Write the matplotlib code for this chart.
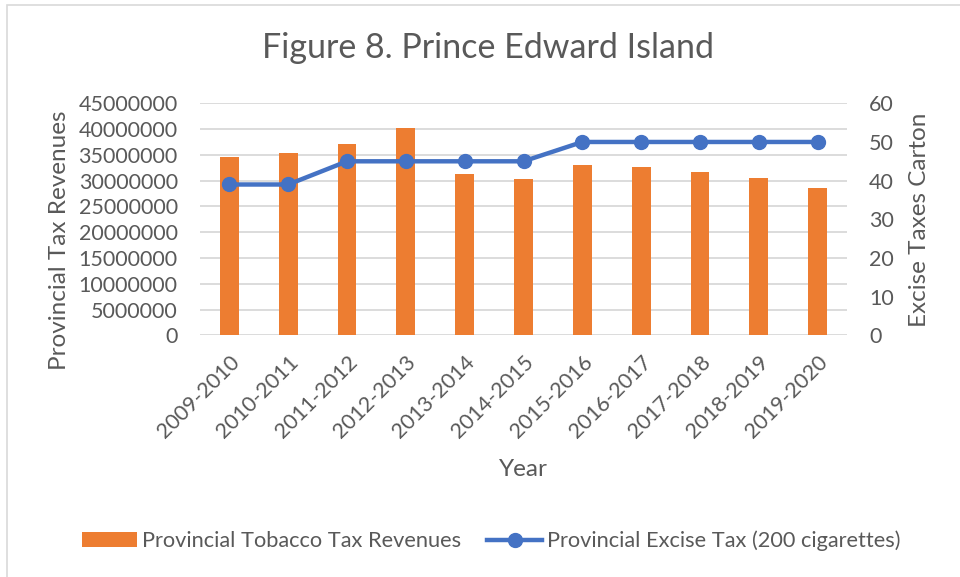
import matplotlib
matplotlib.use("Agg")
import matplotlib.pyplot as plt
from matplotlib.patches import Patch, Rectangle
from matplotlib.lines import Line2D

plt.rcParams['font.family'] = ['Lato', 'DejaVu Sans']

years = ["2009-2010", "2010-2011", "2011-2012", "2012-2013", "2013-2014",
         "2014-2015", "2015-2016", "2016-2017", "2017-2018", "2018-2019",
         "2019-2020"]
tobacco_revenue = [34600000, 35300000, 37100000, 40200000, 31300000,
                   30300000, 33000000, 32700000, 31700000, 30500000,
                   28500000]
excise_tax = [39, 39, 45, 45, 45, 45, 50, 50, 50, 50, 50]

left_ticks = [0, 5000000, 10000000, 15000000, 20000000, 25000000,
              30000000, 35000000, 40000000, 45000000]
right_ticks = [0, 10, 20, 30, 40, 50, 60]

TEXT = "#595959"
ORANGE = "#ED7D31"
BLUE = "#4472C4"
GRID = "#D9D9D9"
TICK_FS = 15.5
LABEL_FS = 17.5

fig = plt.figure(figsize=(9.6, 5.77), dpi=100)
fig.patches.append(Rectangle((7 / 960, -0.1), 1.2, (577 - 4.5) / 577 + 0.1,
                             transform=fig.transFigure, fill=False,
                             edgecolor=GRID, linewidth=1.2))

ax = fig.add_axes([200 / 960, (577 - 335.3) / 577, 647 / 960, 232 / 577])
x = list(range(len(years)))
ax.bar(x, tobacco_revenue, width=0.32, color=ORANGE, zorder=2)
ax.set_xlim(-0.5, len(years) - 0.5)
ax.set_ylim(left_ticks[0], left_ticks[-1])
ax.set_yticks(left_ticks)
ax.set_yticklabels([str(v) for v in left_ticks])
ax.set_axisbelow(True)
ax.yaxis.grid(True, color=GRID, linewidth=1.3)
for s in ax.spines.values():
    s.set_visible(False)
ax.tick_params(axis='both', length=0, colors=TEXT, labelsize=TICK_FS)
ax.tick_params(axis='y', pad=16)
ax.set_xticks(x)
ax.set_xticklabels(years, rotation=45, ha='right', va='top',
                   rotation_mode='anchor')
ax.tick_params(axis='x', pad=12)

ax2 = ax.twinx()
ax2.plot(x, excise_tax, color=BLUE, linewidth=3.2, marker='o',
         markersize=10, zorder=3)
ax2.set_ylim(right_ticks[0], right_ticks[-1])
ax2.set_yticks(right_ticks)
for s in ax2.spines.values():
    s.set_visible(False)
ax2.tick_params(axis='y', length=0, colors=TEXT, labelsize=TICK_FS, pad=16)

fig.text(487.5 / 960, 1 - 48 / 577, "Figure 8. Prince Edward Island",
         ha='center', va='center', fontsize=24.5, color=TEXT)
fig.text(60 / 960, 1 - 240 / 577, "Provincial Tax Revenues", rotation=90,
         ha='center', va='center', fontsize=LABEL_FS, color=TEXT)
fig.text(919 / 960, 1 - 220 / 577, "Excise Taxes Carton", rotation=90,
         ha='center', va='center', fontsize=LABEL_FS, color=TEXT)
fig.text(523 / 960, 1 - 470 / 577, "Year", ha='center', va='center',
         fontsize=LABEL_FS, color=TEXT)

handles = [Patch(facecolor=ORANGE, edgecolor='none'),
           Line2D([0], [0], color=BLUE, linewidth=3.2, marker='o',
                  markersize=10)]
labels = ["Provincial Tobacco Tax Revenues",
          "Provincial Excise Tax (200 cigarettes)"]
leg = fig.legend(handles, labels, loc='center', ncol=2,
                 bbox_to_anchor=(491.5 / 960, 1 - 541 / 577), frameon=False,
                 fontsize=15.7, handlelength=2.5, handletextpad=0.25,
                 columnspacing=1.2, handleheight=0.65)
for t in leg.get_texts():
    t.set_color(TEXT)

fig.savefig("out.png", dpi=100)
